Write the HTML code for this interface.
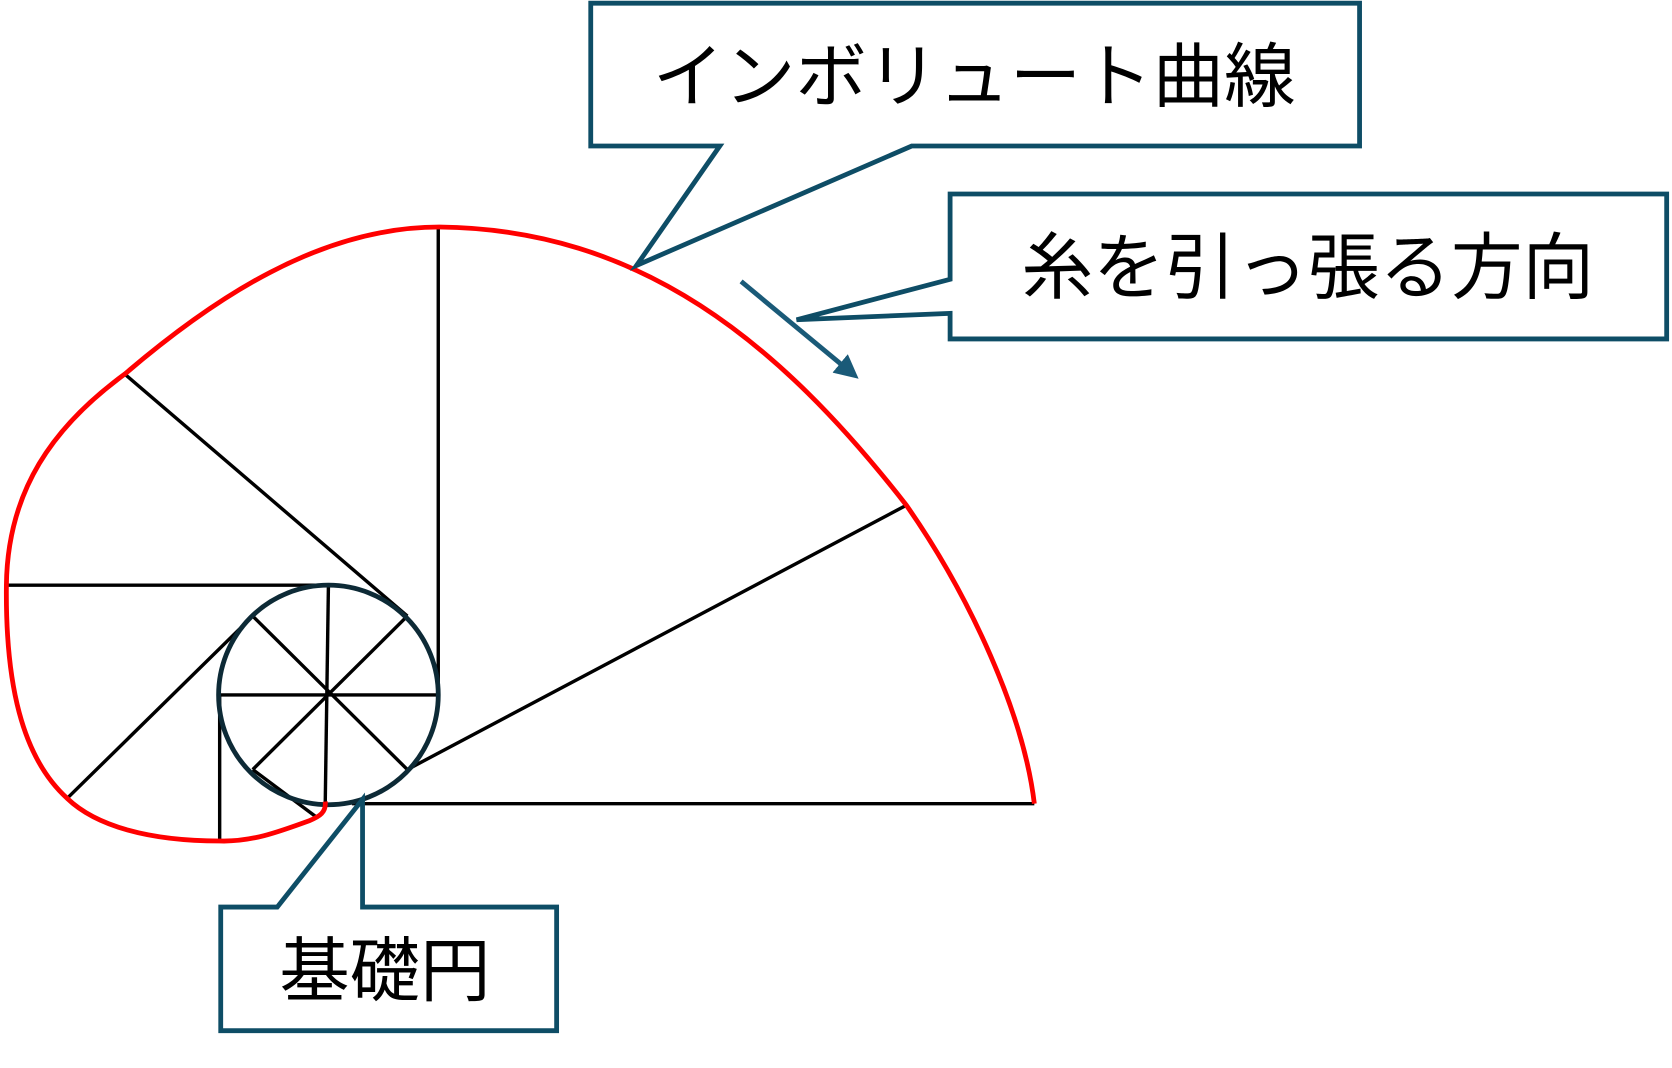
<!DOCTYPE html>
<html><head><meta charset="utf-8"><style>
html,body{margin:0;padding:0;background:#fff;}
svg{display:block;}
text{font-family:"Liberation Sans","Noto Sans CJK JP",sans-serif;fill:#000;}
</style></head><body>
<svg width="1672" height="1068" viewBox="0 0 1568 1002" preserveAspectRatio="none" xmlns="http://www.w3.org/2000/svg">
<defs>
<marker id="ah" markerWidth="5" markerHeight="5" refX="3.5" refY="2.5" orient="auto" markerUnits="strokeWidth">
<path d="M0,0 L5,2.5 L0,5 z" fill="#1a5a78"/>
</marker>
</defs>
<g stroke="#000" stroke-width="3.2" fill="none">
<line x1="308" y1="549" x2="6" y2="549"/>
<line x1="382" y1="578" x2="117" y2="351"/>
<line x1="411" y1="652" x2="411" y2="213"/>
<line x1="382" y1="722" x2="850" y2="474"/>
<line x1="330" y1="754" x2="970" y2="754"/>
<line x1="237" y1="578" x2="63" y2="749"/>
<line x1="206" y1="652" x2="206" y2="789"/>
<line x1="237" y1="722" x2="296" y2="766"/>
<line x1="206" y1="652" x2="412" y2="652"/>
<line x1="308" y1="549" x2="305" y2="754"/>
<line x1="237" y1="578" x2="382" y2="722"/>
<line x1="382" y1="578" x2="237" y2="722"/>
</g>
<circle cx="308" cy="652" r="103" fill="none" stroke="#0d2a36" stroke-width="4.5"/>
<path d="M305,752 C306,762 300,766 290,770 C260,781 235,790 206,789 C140,789 90,775 63,749 C20,710 5,640 6,549 C7,460 50,400 117,351 C200,280 300,213 412,213 C600,215 730,320 850,474 C910,560 960,670 970,754" fill="none" stroke="#ff0000" stroke-width="4.5"/>
<line x1="695" y1="264" x2="800" y2="351" stroke="#1a5a78" stroke-width="4.5" marker-end="url(#ah)"/>
<g fill="#fff" stroke="#0e4d66" stroke-width="4.5" stroke-linejoin="miter">
<path d="M554,3 L1275,3 L1275,137 L855,137 L597,249 L675,137 L554,137 Z"/>
<path d="M891,182 L1563,182 L1563,318 L891,318 L891,294 L747,300 L891,262 Z"/>
<path d="M207,851 L260,851 L340,750 L340,851 L522,851 L522,967 L207,967 Z"/>
</g>
<text x="612" y="95" font-size="66" textLength="603" lengthAdjust="spacingAndGlyphs">インボリュート曲線</text>
<text x="958" y="275" font-size="68" textLength="537" lengthAdjust="spacingAndGlyphs">糸を引っ張る方向</text>
<text x="262" y="934" font-size="66" textLength="198" lengthAdjust="spacingAndGlyphs">基礎円</text>
</svg>
</body></html>
